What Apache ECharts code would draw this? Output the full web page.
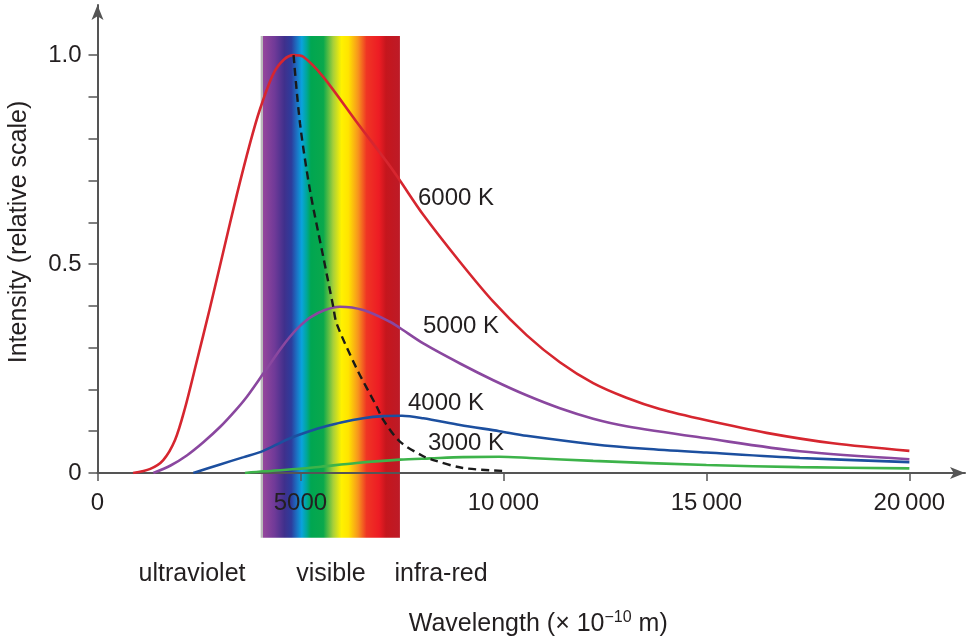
<!DOCTYPE html>
<html>
<head>
<meta charset="utf-8">
<title>Black body spectrum</title>
<script src="https://cdn.jsdelivr.net/npm/echarts@6/dist/echarts.min.js"></script>
<style>
    html, body { margin: 0; padding: 0; background: #fff; }
    #chart { width: 968px; height: 637px; }
</style>
</head>
<body>
<div id="chart"></div>
<script>
// wavelength (x 10^-10 m), relative intensity
const t6000 = [
    [875, 0], [1300, 0.01], [1620, 0.031], [1910, 0.079], [2155, 0.155], [2440, 0.265],
    [2770, 0.395], [3100, 0.53], [3430, 0.665], [3760, 0.79], [4000, 0.87], [4330, 0.955],
    [4600, 0.99], [4830, 1.0], [5070, 0.996], [5560, 0.948], [6384, 0.84], [7200, 0.735],
    [7450, 0.7], [8025, 0.618], [8930, 0.505], [9750, 0.41], [10570, 0.33], [11390, 0.265],
    [12210, 0.215], [13030, 0.18], [13850, 0.153], [15000, 0.126], [16480, 0.096],
    [18120, 0.071], [20000, 0.053]
];
const t5000 = [
    [1375, 0], [1800, 0.018], [2200, 0.042], [2600, 0.073], [3017, 0.11], [3400, 0.15],
    [3675, 0.182], [4084, 0.238], [4495, 0.295], [4741, 0.326], [4988, 0.352], [5234, 0.372],
    [5600, 0.39], [5973, 0.398], [6547, 0.39], [7204, 0.362], [7450, 0.347], [8025, 0.31],
    [8930, 0.262], [9750, 0.222], [10570, 0.186], [11390, 0.155], [12210, 0.13],
    [13030, 0.112], [15000, 0.083], [17300, 0.052], [20000, 0.033]
];
const t4000 = [
    [2360, 0], [3000, 0.02], [3600, 0.038], [4084, 0.053], [4600, 0.077], [4988, 0.092],
    [5315, 0.103], [5562, 0.11], [6000, 0.121], [6547, 0.131], [7040, 0.136], [7500, 0.137],
    [8025, 0.131], [8930, 0.115], [9900, 0.1], [10570, 0.089], [12210, 0.069], [13500, 0.058],
    [15000, 0.049], [17300, 0.036], [20000, 0.026]
];
const t3000 = [
    [3633, 0], [4100, 0.004], [4988, 0.01], [5500, 0.015], [6384, 0.024], [7450, 0.032],
    [8200, 0.035], [9000, 0.038], [9900, 0.039], [10650, 0.036], [12210, 0.029],
    [15000, 0.019], [17300, 0.014], [20000, 0.011]
];
// line through the peaks
const peakLine = [
    [4830, 1.0], [4988, 0.837], [5234, 0.677], [5562, 0.517], [5807, 0.398], [5890, 0.358],
    [6384, 0.25], [6877, 0.159], [7040, 0.127], [7450, 0.075], [8025, 0.04], [8271, 0.031],
    [9000, 0.012], [10000, 0.005]
];

const xTicks = [0, 5000, 10000, 15000, 20000];
const xTickLabels = ['0', '5000', '10\u2009000', '15\u2009000', '20\u2009000'];
const yTicks = [0, 0.1, 0.2, 0.3, 0.4, 0.5, 0.6, 0.7, 0.8, 0.9, 1.0];
const yLabelValues = [0, 0.5, 1];
const yTickLabels = ['0', '0.5', '1.0'];

const visibleBand = [4020, 7450];
const bandSpan = [-0.155, 1.046];
const curveNames = ['6000 K', '5000 K', '4000 K', '3000 K'];
const regionNames = ['ultraviolet', 'visible', 'infra-red'];

const FONT = '"Liberation Sans", Arial, Helvetica, sans-serif';
const TEXT = '#231f20';
const AXIS = '#555555';

let chart = echarts.init(document.getElementById('chart'));

function curve(name, data, color) {
    return {
        name: name,
        type: 'line',
        data: data,
        showSymbol: false,
        smooth: 0.3,
        lineStyle: { color: color, width: 2.6 },
        z: 3
    };
}

let option = {
    animation: false,
    grid: {
        left: 97.5,
        right: 3,
        top: 5,
        bottom: 164,
        outerBoundsMode: 'none'
    },
    xAxis: {
        type: 'value',
        min: 0,
        max: 21370,
        name: 'Wavelength (\u00d7 10{sup|\u221210} m)',
        nameLocation: 'middle',
        nameGap: 137,
        nameTextStyle: {
            color: TEXT,
            fontSize: 25,
            fontFamily: FONT,
            padding: [0, 0, 0, 14],
            rich: {
                sup: { fontSize: 16, fontFamily: FONT, color: TEXT, padding: [0, 0, 13, 0] }
            }
        },
        axisLine: {
            symbol: ['none', 'arrow'],
            symbolSize: [9, 15],
            lineStyle: { color: AXIS, width: 2 }
        },
        axisTick: {
            customValues: xTicks,
            length: 8,
            lineStyle: { color: AXIS, width: 1.5 }
        },
        axisLabel: {
            customValues: xTicks,
            margin: 18,
            color: TEXT,
            fontSize: 24,
            fontFamily: FONT,
            formatter: function (value) {
                let i = xTicks.indexOf(value);
                return i < 0 ? '' : xTickLabels[i];
            }
        },
        splitLine: { show: false }
    },
    yAxis: {
        type: 'value',
        min: 0,
        max: 1.12,
        name: 'Intensity (relative scale)',
        nameLocation: 'middle',
        nameGap: 66,
        nameTextStyle: { color: TEXT, fontSize: 25, fontFamily: FONT, padding: [0, 0, 0, 14] },
        axisLine: {
            symbol: ['none', 'arrow'],
            symbolSize: [9, 15],
            lineStyle: { color: AXIS, width: 2 }
        },
        axisTick: {
            customValues: yTicks,
            length: 9,
            lineStyle: { color: AXIS, width: 1.5 }
        },
        axisLabel: {
            customValues: yLabelValues,
            margin: 16,
            color: TEXT,
            fontSize: 24,
            fontFamily: FONT,
            formatter: function (value) {
                let i = yLabelValues.indexOf(value);
                return i < 0 ? '' : yTickLabels[i];
            }
        },
        splitLine: { show: false }
    },
    series: [
        curve(curveNames[0], t6000, '#d6262f'),
        curve(curveNames[1], t5000, '#8a479f'),
        curve(curveNames[2], t4000, '#1c4f9f'),
        curve(curveNames[3], t3000, '#3db34a'),
        {
            name: 'peak',
            type: 'line',
            data: peakLine,
            showSymbol: false,
            smooth: 0.3,
            lineStyle: { color: '#1a1a1a', width: 2.4, type: [8, 5] },
            z: 4
        }
    ]
};
chart.setOption(option);

// spectrum band, placed through the axes
let p1 = chart.convertToPixel({ gridIndex: 0 }, [visibleBand[0], bandSpan[1]]);
let p2 = chart.convertToPixel({ gridIndex: 0 }, [visibleBand[1], bandSpan[0]]);

let spectrum = new echarts.graphic.LinearGradient(0, 0, 1, 0, [
    { offset: 0, color: '#b9b9b9' },
    { offset: 0.015, color: '#b9b9b9' },
    { offset: 0.02, color: '#94469c' },
    { offset: 0.1, color: '#703a98' },
    { offset: 0.17, color: '#40308c' },
    { offset: 0.22, color: '#2d3c9c' },
    { offset: 0.26, color: '#1c72c4' },
    { offset: 0.295, color: '#0aa3dc' },
    { offset: 0.33, color: '#00a79a' },
    { offset: 0.36, color: '#00a651' },
    { offset: 0.45, color: '#0aa84c' },
    { offset: 0.52, color: '#a6cf3a' },
    { offset: 0.58, color: '#fff200' },
    { offset: 0.63, color: '#ffe400' },
    { offset: 0.7, color: '#f7941d' },
    { offset: 0.76, color: '#ef3524' },
    { offset: 0.85, color: '#ed1c24' },
    { offset: 0.9, color: '#c5161d' },
    { offset: 1, color: '#bd1b27' }
]);

function label(text, x, y, align, size) {
    return {
        type: 'text',
        x: x,
        y: y,
        z: 10,
        style: {
            text: text,
            align: align,
            verticalAlign: 'middle',
            fill: TEXT,
            fontSize: size,
            fontFamily: FONT
        }
    };
}

chart.setOption({
    graphic: [
        {
            type: 'rect',
            z: -10,
            shape: { x: p1[0], y: p1[1], width: p2[0] - p1[0], height: p2[1] - p1[1] },
            style: { fill: spectrum }
        },
        label(curveNames[0], 418, 198, 'left', 24),
        label(curveNames[1], 423, 326, 'left', 24),
        label(curveNames[2], 408, 403, 'left', 24),
        label(curveNames[3], 428, 443, 'left', 24),
        label(regionNames[0], 192, 574, 'center', 25),
        label(regionNames[1], 331, 574, 'center', 25),
        label(regionNames[2], 441, 574, 'center', 25)
    ]
});
</script>
</body>
</html>
